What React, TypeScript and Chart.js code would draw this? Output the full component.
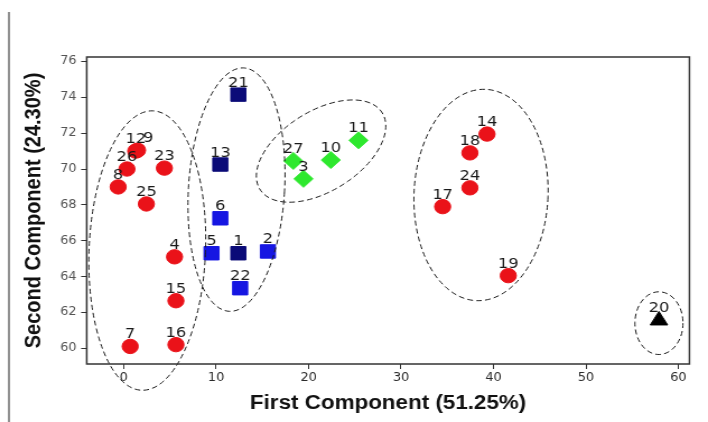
import { useEffect, useRef } from 'react';
import { Chart, registerables } from 'chart.js';

Chart.register(...registerables);

// Axis ticks
const X_TICKS = [0, 10, 20, 30, 40, 50, 60];
const Y_TICKS = [60, 62, 64, 66, 68, 70, 72, 74, 76];

// Group A (red circles)
const RED_IDS = ['12', '9', '26', '8', '23', '25', '4', '15', '7', '16', '14', '18', '24', '17', '19'];
const RED_X = [1.3, 1.5, 0.35, -0.6, 4.4, 2.45, 5.5, 5.65, 0.7, 5.65, 39.3, 37.45, 37.45, 34.5, 41.6];
const RED_Y = [71.0, 71.05, 70.0, 69.0, 70.05, 68.05, 65.1, 62.65, 60.1, 60.2, 71.95, 70.9, 68.95, 67.9, 64.05];

// Group B (navy squares)
const NAVY_IDS = ['21', '13', '1'];
const NAVY_X = [12.4, 10.45, 12.4];
const NAVY_Y = [74.15, 70.25, 65.3];

// Group C (blue squares)
const BLUE_IDS = ['6', '5', '2', '22'];
const BLUE_X = [10.45, 9.5, 15.6, 12.6];
const BLUE_Y = [67.25, 65.3, 65.4, 63.35];

// Group D (green diamonds)
const GREEN_IDS = ['27', '3', '10', '11'];
const GREEN_X = [18.35, 19.45, 22.4, 25.4];
const GREEN_Y = [70.45, 69.45, 70.5, 71.6];

// Outlier (black triangle)
const BLACK_IDS = ['20'];
const BLACK_X = [57.9];
const BLACK_Y = [61.55];

// Cluster outlines: centre, half-extent in axis units, tilt in degrees
const HULL_CX = [2.55, 12.2, 21.35, 38.65, 57.9];
const HULL_CY = [65.45, 68.85, 71.0, 68.55, 61.4];
const HULL_RX = [6.3, 5.2, 8.1, 7.25, 2.6];
const HULL_RY = [7.8, 6.8, 2.15, 5.9, 1.75];
const HULL_TILT = [2, 3, -38, 2, 0];

const X_TITLE = 'First Component (51.25%)';
const Y_TITLE = 'Second Component (24.30%)';

// Canvas is drawn narrower and widened by CSS
const CSS_W = 708;
const CSS_H = 422;
const STRETCH = 1.12;
const CANVAS_W = Math.round(CSS_W / STRETCH);

const LABEL_NUDGE: Record<string, number> = { '9': 9.5 };

const toPoints = (xs: number[], ys: number[]) => xs.map((x, i) => ({ x, y: ys[i] }));

const GROUP_IDS = [RED_IDS, NAVY_IDS, BLUE_IDS, GREEN_IDS, BLACK_IDS];

const decorations = {
  id: 'decorations',
  beforeDraw(chart: any) {
    const { ctx } = chart;
    ctx.save();
    ctx.strokeStyle = '#222';
    ctx.lineWidth = 1;
    ctx.beginPath();
    ctx.moveTo(8, 12);
    ctx.lineTo(8, CSS_H);
    ctx.stroke();
    ctx.restore();
  },
  afterDatasetsDraw(chart: any) {
    const { ctx, chartArea } = chart;
    const xs = chart.scales.x;
    const ys = chart.scales.y;

    // point numbers
    ctx.save();
    ctx.font = '14.5px "DejaVu Sans"';
    ctx.fillStyle = '#1a1a1a';
    ctx.textAlign = 'center';
    ctx.textBaseline = 'alphabetic';
    GROUP_IDS.forEach((ids, di) => {
      const meta = chart.getDatasetMeta(di);
      meta.data.forEach((pt: any, j: number) => {
        const id = ids[j];
        ctx.fillText(id, pt.x + (LABEL_NUDGE[id] || 0), pt.y - 8);
      });
    });
    ctx.restore();

    // dashed cluster outlines
    ctx.save();
    ctx.strokeStyle = '#1a1a1a';
    ctx.lineWidth = 1;
    ctx.setLineDash([5, 3]);
    HULL_CX.forEach((cx, i) => {
      const px = xs.getPixelForValue(cx);
      const py = ys.getPixelForValue(HULL_CY[i]);
      const rx = Math.abs(xs.getPixelForValue(cx + HULL_RX[i]) - px);
      const ry = Math.abs(ys.getPixelForValue(HULL_CY[i] + HULL_RY[i]) - py);
      ctx.beginPath();
      ctx.ellipse(px, py, rx, ry, (HULL_TILT[i] * Math.PI) / 180, 0, Math.PI * 2);
      ctx.stroke();
    });
    ctx.restore();

    // plot frame
    ctx.save();
    ctx.strokeStyle = '#333';
    ctx.lineWidth = 1.5;
    ctx.strokeRect(chartArea.left, chartArea.top, chartArea.right - chartArea.left, chartArea.bottom - chartArea.top);
    ctx.restore();
  },
};

export default function App() {
  const canvasRef = useRef<HTMLCanvasElement | null>(null);

  useEffect(() => {
    const canvas = canvasRef.current;
    if (!canvas) return;
    const chart = new Chart(canvas, {
      type: 'scatter',
      data: {
        datasets: [
          {
            label: 'A',
            data: toPoints(RED_X, RED_Y),
            pointStyle: 'circle',
            pointRadius: 7.2,
            backgroundColor: '#ea1219',
            borderColor: '#ea1219',
            borderWidth: 1,
          },
          {
            label: 'B',
            data: toPoints(NAVY_X, NAVY_Y),
            pointStyle: 'rect',
            pointRadius: 9.5,
            backgroundColor: '#0b0b78',
            borderColor: '#0b0b78',
            borderWidth: 1,
          },
          {
            label: 'C',
            data: toPoints(BLUE_X, BLUE_Y),
            pointStyle: 'rect',
            pointRadius: 9.5,
            backgroundColor: '#1616e2',
            borderColor: '#1616e2',
            borderWidth: 1,
          },
          {
            label: 'D',
            data: toPoints(GREEN_X, GREEN_Y),
            pointStyle: 'rectRot',
            pointRadius: 8.5,
            backgroundColor: '#2ee82e',
            borderColor: '#2ee82e',
            borderWidth: 1,
          },
          {
            label: 'E',
            data: toPoints(BLACK_X, BLACK_Y),
            pointStyle: 'triangle',
            pointRadius: 9,
            backgroundColor: '#000',
            borderColor: '#000',
            borderWidth: 1,
          },
        ],
      },
      options: {
        responsive: false,
        animation: false,
        devicePixelRatio: 1,
        layout: { padding: { top: 57, left: 0, right: CANVAS_W - 689.3 / STRETCH, bottom: 0 } },
        plugins: {
          legend: { display: false },
          tooltip: { enabled: false },
        },
        scales: {
          x: {
            type: 'linear',
            min: -4,
            max: 61.2,
            afterBuildTicks: (s: any) => {
              s.ticks = X_TICKS.map((v) => ({ value: v }));
            },
            afterFit: (s: any) => {
              s.height = CSS_H - 364;
            },
            grid: { drawOnChartArea: false, drawTicks: true, tickLength: 5, tickColor: '#333', tickWidth: 1 },
            border: { display: false },
            ticks: { color: '#2a2a2a', font: { family: '"DejaVu Sans"', size: 11.5 }, padding: 2, maxRotation: 0 },
            title: {
              display: true,
              text: X_TITLE,
              color: '#111',
              font: { family: '"Liberation Sans", Arial, sans-serif', size: 20, weight: 'bold' },
              padding: { top: 0, bottom: 7 },
            },
          },
          y: {
            type: 'linear',
            min: 59.12,
            max: 76.25,
            afterBuildTicks: (s: any) => {
              s.ticks = Y_TICKS.map((v) => ({ value: v }));
            },
            afterFit: (s: any) => {
              s.width = 86.7 / STRETCH;
            },
            grid: { drawOnChartArea: false, drawTicks: true, tickLength: 5, tickColor: '#333', tickWidth: 1 },
            border: { display: false },
            ticks: { color: '#555', font: { family: '"DejaVu Sans"', size: 11.5 }, padding: 4 },
            title: {
              display: true,
              text: Y_TITLE,
              color: '#111',
              font: { family: '"Liberation Sans", Arial, sans-serif', size: 20, weight: 'bold' },
              padding: { top: 18.4, bottom: 0 },
            },
          },
        },
      },
      plugins: [decorations],
    });
    return () => chart.destroy();
  }, []);

  return (
    <div style={{ position: 'absolute', left: 0, top: 0, width: CSS_W, height: CSS_H, background: '#fff' }}>
      <canvas
        ref={canvasRef}
        width={CANVAS_W}
        height={CSS_H}
        style={{ width: `${CSS_W}px`, height: `${CSS_H}px`, display: 'block' }}
      />
    </div>
  );
}
